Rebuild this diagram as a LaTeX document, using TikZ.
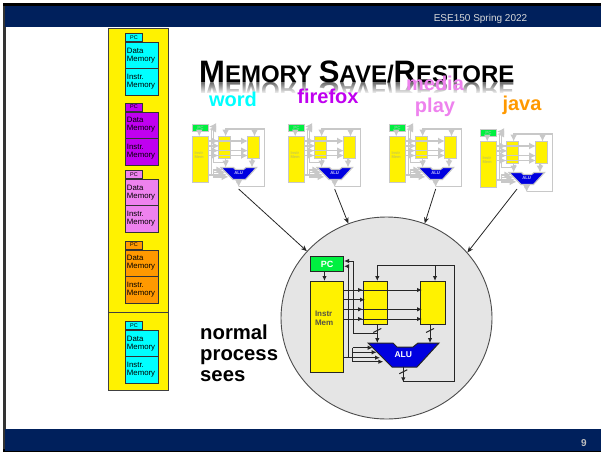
\documentclass[tikz,border=0pt]{standalone}
\usepackage{fontspec}
\setmainfont{Liberation Sans}
\usetikzlibrary{arrows.meta,shapes.geometric,fadings}
\definecolor{navy}{HTML}{00205C}
\definecolor{wiregray}{HTML}{C8C8C8}
\definecolor{ghosttext}{HTML}{C9C94A}
\definecolor{alublue}{HTML}{0000E0}
\definecolor{pcgreen}{HTML}{00F040}
\definecolor{wordc}{HTML}{00FFFF}
\definecolor{firefoxc}{HTML}{C000F0}
\definecolor{mediac}{HTML}{EE82EE}
\definecolor{javac}{HTML}{FF9900}
\newcommand{\titletext}{{\fontsize{31}{30}\selectfont M}{\fontsize{24}{30}\selectfont EMORY }{\fontsize{31}{30}\selectfont S}{\fontsize{24}{30}\selectfont AVE/}{\fontsize{31}{30}\selectfont R}{\fontsize{24}{30}\selectfont ESTORE}}

\tikzset{
  pics/memstack/.style={code={
    \node[tabbox, fill=#1] (tab) at (0,0) {PC};
    \node[membox, fill=#1, minimum height=26pt] (data) at (0,0) {Data\\Memory};
    \node[membox, fill=#1, minimum height=27pt] (instr) at (0,26) {Instr.\\Memory};
  }},
  pics/cpu/.style={code={
    \node[boxline, fill=pcgreen, anchor=north west, minimum width=33pt, minimum height=15pt, text=\pcink, font=\bfseries\fontsize{9}{10}\selectfont] (pc) at (0,0) {PC};
    \node[boxline, fill=yellow, anchor=north west, minimum width=33pt, minimum height=91pt, text width=24pt, text=\memink, align=left, font=\bfseries\fontsize{8}{8.5}\selectfont] (imem) at (0,25) {Instr\\Mem\\[9pt]\mbox{}};
    \node[boxline, fill=yellow, anchor=north west, minimum width=24pt, minimum height=43pt] (ra) at (53,25) {};
    \node[boxline, fill=yellow, anchor=north west, minimum width=25pt, minimum height=43pt] (rb) at (110,25) {};
    \draw[boxline, fill=alublue] (58,87) -- (83,87) -- (87,91) -- (103,91) -- (108,87) -- (129,87) -- (107,111) -- (82,111) -- cycle;
    \node[minimum height=24pt, inner sep=0pt, text=\aluink, font=\bfseries\fontsize{8.5}{9}\selectfont] (alu) at (93.3,99) {ALU};
    \coordinate (fb) at (93.3,125);
    \coordinate (out) at (93.3,130);
    \draw[wire,->] (pc.south -| 14.5,0) -- (imem.north -| 14.5,0);
    % instruction fields
    \foreach \y in {34,53.3,63} {
      \draw[wire,->] (imem.east |- 0,\y) -- (ra.west |- 0,\y);
      \draw[wire,->] (imem.east |- 0,\y) -- ([xshift=2pt]rb.west |- 0,\y);
    }
    \draw[wire,->] (imem.east |- 0,43.7) -- ([xshift=2pt]ra.west |- 0,43.7);
    \draw[wire] (imem.east |- 0,101.7) -- (42.7,101.7);
    \draw[wire] (42.7,91.7) -- (42.7,105.7);
    \foreach \y/\x in {91.7/62.7,96.3/66.7,101.7/70,105.7/73.3} \draw[wire,->] (42.7,\y) -- (\x,\y);
    % registers to alu
    \draw[wire,->] (ra.south -| 67.3,0) -- (67.3,87);
    \draw[wire,->] (rb.south -| 120,0) -- (120,87);
    \draw[wire,->] (67.3,77.3) -| (43.3,5) -- (pc.east |- 0,5);
    \draw[wire,->] (38.3,101.7) |- (pc.east |- 0,10.3);
    \draw[wire,->] (alu.south) -- (93.3,126.3);
    \draw[wire,->] (fb) -| (144.3,9.7) -| (ra.north -| 67.3,0);
    \draw[wire,->] (125,9.7) -- (rb.north -| 125,0);
    \foreach \x/\y in {67.3/74.5,120/74.5,93.3/115.7} \draw[wire] (\x-4,\y+2) -- (\x+4,\y-2);
  }},
}
\newcommand{\pcink}{white}
\newcommand{\memink}{black!75!yellow}
\newcommand{\aluink}{white}

\begin{document}
\begin{tikzpicture}[x=1pt, y=-1pt,
    tabbox/.style={draw=black!80, line width=0.9pt, anchor=south west, minimum width=17pt, minimum height=8pt, inner sep=0pt, font=\fontsize{5.5}{6}\selectfont},
    membox/.style={draw=black!80, line width=0.9pt, anchor=north west, minimum width=33pt, text width=30pt, inner sep=1.5pt, align=left, font=\fontsize{7.8}{8}\selectfont},
    panel/.style={draw=black!75, line width=0.9pt, fill=yellow, anchor=north west, minimum width=60pt, inner sep=0pt},
    boxline/.style={draw=black!85, line width=1pt, inner sep=0pt},
    wire/.style={draw=black!85, line width=1pt, >={Latex[length=5pt,width=4.5pt]}},
    ghost/.style={scale=0.5, transform shape,
      boxline/.style={draw=wiregray, line width=1.1pt, inner sep=0pt},
      wire/.style={draw=wiregray, line width=1.3pt, >={Latex[length=7pt,width=7pt]}}},
    app/.style={font=\bfseries\fontsize{20}{20}\selectfont, inner sep=0pt, align=center},
    feed/.style={-{Stealth[length=6pt,width=5pt]}, line width=0.8pt, draw=black!85}]
  \useasboundingbox (0,0) rectangle (601,453);
  % slide frame
  \fill[black!80] (3,3) rectangle (6,452);
  \fill[black] (3,3) rectangle (601,6);
  \fill[navy] (5,5.5) rectangle (601,27);
  \fill[black] (3,449) rectangle (601,452);
  \fill[navy] (5,429) rectangle (601,450.5);
  \node[text=black!15, inner sep=0pt, font=\fontsize{10}{11}\selectfont] (course) at (480.5,19) {ESE150 Spring 2022};
  \node[text=black!25, inner sep=0pt, font=\bfseries\fontsize{10}{11}\selectfont] (pageno) at (584,443) {9};
  % title with its reflection
  \node[anchor=base west, yscale=-1, transform shape, inner sep=0pt, text=black!55, font=\bfseries] (mirror) at (199,82) {\titletext};
  \fill[white, path fading=north] (195,83) rectangle (520,94);
  \fill[white] (195,93) rectangle (520,110);
  \node[anchor=base west, inner sep=0pt, font=\bfseries] (title) at (199,82) {\titletext};
  % saved processes
  \node[panel, minimum height=285pt] (panela) at (108,27.5) {};
  \node[panel, minimum height=78pt] (panelb) at (108,312) {};
  \pic (s1) at (125,42) {memstack=wordc};
  \pic (s2) at (125,111.5) {memstack=firefoxc};
  \pic (s3) at (125,179) {memstack=mediac};
  \pic (s4) at (125,249.5) {memstack=javac};
  \pic (s5) at (125,330) {memstack=wordc};
  % application names
  \node[app, text=wordc] (word) at (233,99) {word};
  \node[app, text=firefoxc] (firefox) at (328,96) {firefox};
  \node[app, text=mediac] (media) at (435,96.5) {media\\[1.5pt]play};
  \node[app, text=javac] (java) at (522,105) {java};
  % copies of the machine
  \begin{scope}
    \renewcommand{\pcink}{wiregray!60!pcgreen}
    \renewcommand{\memink}{ghosttext}
    \renewcommand{\aluink}{white!80!alublue}
    \pic[ghost] (cw) at (192,124) {cpu};
    \pic[ghost] (cf) at (288,124) {cpu};
    \pic[ghost] (cm) at (389,124) {cpu};
    \pic[ghost] (cj) at (480,129) {cpu};
  \end{scope}
  % running process
  \node[ellipse, draw=black!70, line width=0.9pt, fill=black!10, minimum width=211pt, minimum height=202pt, inner sep=0pt] (proc) at (386.5,318) {};
  \pic (main) at (310,256) {cpu};
  \node[anchor=north west, align=left, inner sep=0pt, font=\bfseries\fontsize{20.3}{21}\selectfont] (sees) at (200,325) {normal\\process\\sees};
  \coordinate (javatail) at (517,189);
  \draw[feed] (cwout) -- (proc.140.6);
  \draw[feed] (cfout) -- (proc.112);
  \draw[feed] (cmout) -- (proc.68);
  \draw[feed] (javatail) -- (proc.39);
\end{tikzpicture}
\end{document}
